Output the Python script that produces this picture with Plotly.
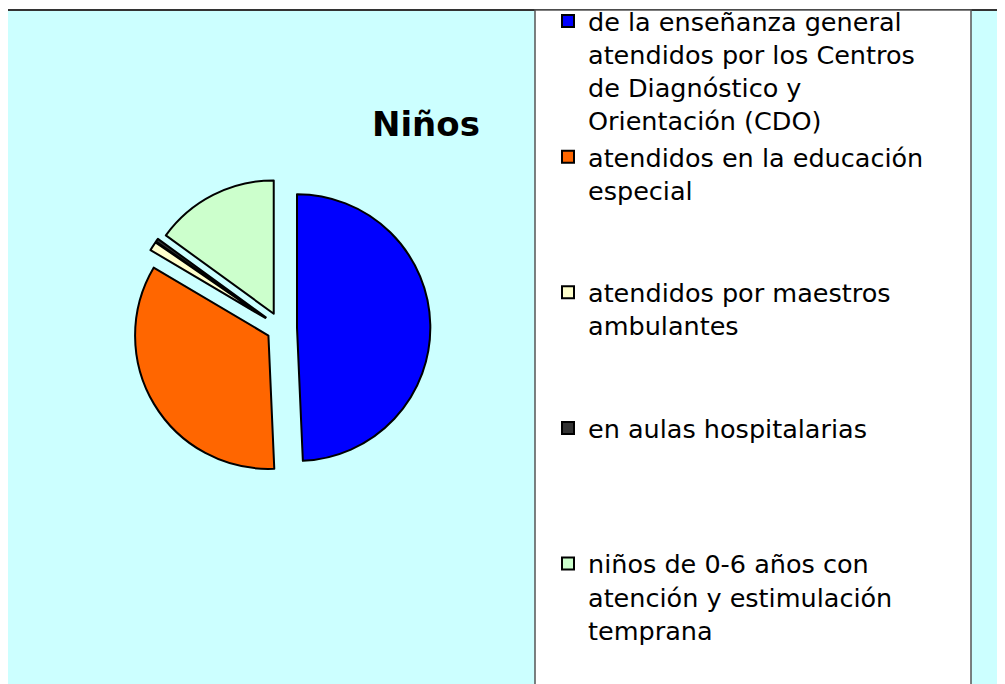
import plotly.graph_objects as go

# ---- data (approximate shares) ----
labels = [
    "de la enseñanza general<br>atendidos por los Centros<br>de Diagnóstico y<br>Orientación (CDO)",
    "atendidos en la educación<br>especial<br> <br> ",
    "atendidos por maestros<br>ambulantes<br> <br> ",
    "en aulas hospitalarias<br> <br> <br> ",
    "niños de 0-6 años con<br>atención y estimulación<br>temprana",
]
values = [49.3, 34.2, 1.1, 0.4, 15.0]
colors = ["#0000FF", "#FF6600", "#FFFFCC", "#333333", "#CCFFCC"]
pulls = [0.12, 0.11, 0.14, 0.14, 0.12]
title_text = "Niños"

# page has an 8px body margin, so the figure is 8px smaller than the window
W, H = 997, 676

fig = go.Figure()
fig.add_trace(go.Pie(
    labels=labels,
    values=values,
    sort=False,
    direction="clockwise",
    rotation=0,
    pull=pulls,
    marker=dict(colors=colors, line=dict(color="black", width=2)),
    textinfo="none",
    hoverinfo="label+value",
    domain=dict(x=[120 / W, 426 / W], y=[204 / H, 508 / H]),
))

shapes = [
    # outer frame (cyan)
    dict(type="rect", xref="paper", yref="paper",
         x0=-0.01, x1=1.02, y0=-0.05, y1=1 - 2 / H,
         fillcolor="#CCFFFF", line=dict(color="#333333", width=2), layer="below"),
    # legend box (white)
    dict(type="rect", xref="paper", yref="paper",
         x0=527 / W, x1=963 / W, y0=-0.05, y1=1 - 2 / H,
         fillcolor="white", line=dict(color="#555555", width=1.5), layer="below"),
]

fig.update_layout(
    width=W, height=H,
    margin=dict(l=0, r=0, t=0, b=0, autoexpand=False),
    paper_bgcolor="white",
    plot_bgcolor="white",
    shapes=shapes,
    showlegend=True,
    legend=dict(
        x=540 / W, y=1 + 10 / H, xanchor="left", yanchor="top",
        bgcolor="rgba(0,0,0,0)", borderwidth=0,
        font=dict(family="DejaVu Sans, Arial, sans-serif", size=25.5, color="black"),
        valign="top",
        traceorder="normal",
        maxheight=1200,
    ),
    annotations=[dict(
        text="<b>" + title_text + "</b>", xref="paper", yref="paper",
        x=418 / W, y=1 - 116 / H, xanchor="center", yanchor="middle",
        showarrow=False,
        font=dict(family="DejaVu Sans, Arial, sans-serif", size=34, color="black"),
    )],
)

fig.write_html("out.html")
